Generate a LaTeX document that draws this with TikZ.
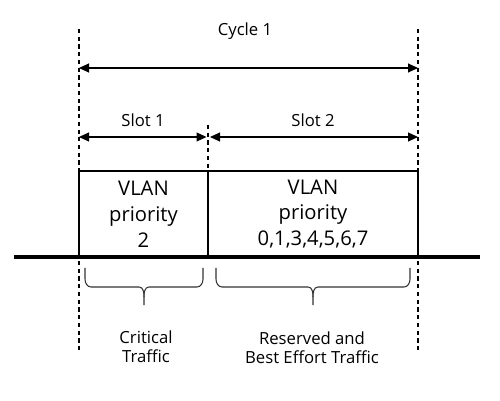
\documentclass[tikz,border=0pt]{standalone}
\usepackage{fontspec}
\setmainfont{Open Sans}
\usepackage{tikz}
\usetikzlibrary{positioning,calc,arrows.meta}

\tikzset{
  guide/.style={draw=black,line width=0.6pt,dash pattern=on 2.4pt off 2pt},
  span/.style={{Triangle[length=2mm,width=1.8mm]}-{Triangle[length=2mm,width=1.8mm]},line width=0.6pt},
  slotbox/.style={draw=black,line width=0.8pt,minimum height=1.72cm,inner sep=0pt,
    align=center,font=\fontsize{11.5}{14.7}\selectfont},
  brc/.style={draw=black!80,line width=0.6pt},
  lbl/.style={font=\fontsize{9.5}{11}\selectfont,align=center}
}

\begin{document}
\begin{tikzpicture}
  \useasboundingbox (0,0) rectangle (10,8);

  % cycle boundaries
  \coordinate (lt) at (1.58,7.42);
  \coordinate (lb) at (1.58,0.94);
  \coordinate (rt) at (8.36,7.42);
  \coordinate (rb) at (8.36,0.94);
  \coordinate (mt) at (4.16,5.5);
  \coordinate (mb) at (4.16,4.58);
  \draw[guide] (lt) -- (lb);
  \draw[guide] (rt) -- (rb);
  \draw[guide] (mt) -- (mb);

  % cycle and slot spans
  \coordinate (cycL) at (1.58,6.64);
  \coordinate (cycR) at (8.36,6.64);
  \draw[span] (cycL) -- (cycR);
  \node[lbl] (cycle) at (4.9,7.38) {Cycle 1};

  \coordinate (s1L) at (1.58,5.26);
  \coordinate (s1R) at (4.13,5.26);
  \coordinate (s2L) at (4.2,5.26);
  \coordinate (s2R) at (8.36,5.26);
  \draw[span] (s1L) -- (s1R);
  \draw[span] (s2L) -- (s2R);
  \node[lbl] (slot1) at (2.86,5.6) {Slot 1};
  \node[lbl] (slot2) at (6.26,5.6) {Slot 2};

  % slot contents
  \node[slotbox,minimum width=2.58cm] (crit) at (2.87,3.72) {VLAN\\priority\\2};
  \node[slotbox,minimum width=4.2cm] (rest) at (6.26,3.72) {VLAN\\priority\\0,1,3,4,5,6,7};

  % time line
  \coordinate (tl) at (0.28,2.86);
  \coordinate (tr) at (9.6,2.86);
  \draw[line width=2.3pt] (tl) -- (tr);

  % braces
  \draw[brc] (1.7,2.64) -- (1.7,2.42) to[out=-90,in=180] (1.82,2.26) -- (2.78,2.26)
    to[out=0,in=90] (2.88,2.06) -- (2.88,1.9);
  \draw[brc] (4.06,2.64) -- (4.06,2.42) to[out=-90,in=0] (3.94,2.26) -- (2.98,2.26)
    to[out=180,in=90] (2.88,2.06);
  \draw[brc] (4.32,2.64) -- (4.32,2.42) to[out=-90,in=180] (4.44,2.26) -- (6.16,2.26)
    to[out=0,in=90] (6.26,2.06) -- (6.26,1.9);
  \draw[brc] (8.2,2.64) -- (8.2,2.42) to[out=-90,in=0] (8.08,2.26) -- (6.36,2.26)
    to[out=180,in=90] (6.26,2.06);

  \node[lbl] (critlbl) at (2.92,1.06) {Critical\\Traffic};
  \node[lbl] (restlbl) at (6.24,1.04) {Reserved and\\Best Effort Traffic};
\end{tikzpicture}
\end{document}
